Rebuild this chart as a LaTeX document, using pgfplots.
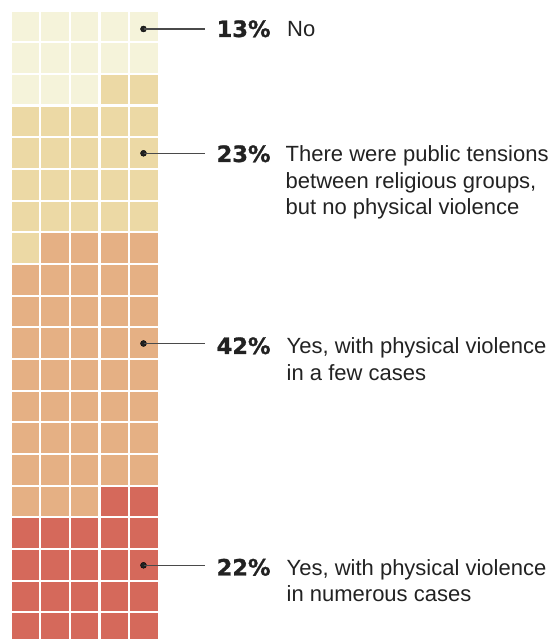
\documentclass[border=0pt]{standalone}
\usepackage{pgfplots}
\pgfplotsset{compat=1.18}
\usepackage{fontspec}
\setmainfont{Liberation Sans}
\newfontfamily\numfont[FakeBold=1.2]{DejaVu Sans Bold}
\definecolor{cNo}{HTML}{F5F3DA}
\definecolor{cTension}{HTML}{ECD9A5}
\definecolor{cFew}{HTML}{E5B084}
\definecolor{cMany}{HTML}{D5695B}
\definecolor{txt}{HTML}{222222}
\definecolor{lead}{HTML}{4A4A4A}
% one cell = one mark covering the full pitch, white outline makes the gaps
\pgfplotsset{cell/.style={only marks, color=#1, mark=square*, mark size=15.83pt,
  mark options={fill=#1, draw=white, line width=2.1pt, xscale=0.935}}}
\begin{document}
\begin{tikzpicture}
\begin{axis}[
  width=555pt, height=639pt, scale only axis,
  xmin=0, xmax=555, ymin=0, ymax=639, y dir=reverse,
  hide axis, clip=true, set layers]
% 13% No
\addplot[cell=cNo] coordinates {
 (25.3,26.4) (55,26.4) (84.6,26.4) (114.3,26.4) (143.9,26.4)
 (25.3,58.1) (55,58.1) (84.6,58.1) (114.3,58.1) (143.9,58.1)
 (25.3,89.7) (55,89.7) (84.6,89.7) };
% 23% tensions, no violence
\addplot[cell=cTension] coordinates {
 (114.3,89.7) (143.9,89.7)
 (25.3,121.4) (55,121.4) (84.6,121.4) (114.3,121.4) (143.9,121.4)
 (25.3,153.1) (55,153.1) (84.6,153.1) (114.3,153.1) (143.9,153.1)
 (25.3,184.8) (55,184.8) (84.6,184.8) (114.3,184.8) (143.9,184.8)
 (25.3,216.4) (55,216.4) (84.6,216.4) (114.3,216.4) (143.9,216.4)
 (25.3,248.1) };
% 42% violence in a few cases
\addplot[cell=cFew] coordinates {
 (55,248.1) (84.6,248.1) (114.3,248.1) (143.9,248.1)
 (25.3,279.8) (55,279.8) (84.6,279.8) (114.3,279.8) (143.9,279.8)
 (25.3,311.4) (55,311.4) (84.6,311.4) (114.3,311.4) (143.9,311.4)
 (25.3,343.1) (55,343.1) (84.6,343.1) (114.3,343.1) (143.9,343.1)
 (25.3,374.8) (55,374.8) (84.6,374.8) (114.3,374.8) (143.9,374.8)
 (25.3,406.4) (55,406.4) (84.6,406.4) (114.3,406.4) (143.9,406.4)
 (25.3,438.1) (55,438.1) (84.6,438.1) (114.3,438.1) (143.9,438.1)
 (25.3,469.8) (55,469.8) (84.6,469.8) (114.3,469.8) (143.9,469.8)
 (25.3,501.5) (55,501.5) (84.6,501.5) };
% 22% violence in numerous cases
\addplot[cell=cMany] coordinates {
 (114.3,501.5) (143.9,501.5)
 (25.3,533.1) (55,533.1) (84.6,533.1) (114.3,533.1) (143.9,533.1)
 (25.3,564.8) (55,564.8) (84.6,564.8) (114.3,564.8) (143.9,564.8)
 (25.3,596.5) (55,596.5) (84.6,596.5) (114.3,596.5) (143.9,596.5)
 (25.3,628.1) (55,628.1) (84.6,628.1) (114.3,628.1) (143.9,628.1) };
% leader lines and dots (above the cells)
\addplot[lead, line width=1.3pt, no marks, unbounded coords=jump, on layer=axis foreground] coordinates {
 (143.5,29) (204.5,29) (nan,nan)
 (143.5,153.3) (204.5,153.3) (nan,nan)
 (143.5,343.5) (204.5,343.5) (nan,nan)
 (143.5,565.3) (204.5,565.3) };
\addplot[only marks, mark=*, mark size=3pt, mark options={fill=txt, draw=none}, on layer=axis foreground] coordinates {
 (143.5,29) (143.5,153.3) (143.5,343.5) (143.5,565.3) };
% labels
\begin{scope}[every node/.style={anchor=base west, inner sep=0pt, text=txt}]
\node[font=\numfont\fontsize{22.5}{26}\selectfont] at (axis cs:216.5,37) {13\%};
\node[font=\fontsize{22}{26}\selectfont] at (axis cs:287,37) {No};
\node[font=\numfont\fontsize{22.5}{26}\selectfont] at (axis cs:216.5,162) {23\%};
\node[font=\fontsize{22}{26}\selectfont] at (axis cs:285.5,162) {There were public tensions};
\node[font=\fontsize{22}{26}\selectfont] at (axis cs:285.5,188.2) {between religious groups,};
\node[font=\fontsize{22}{26}\selectfont] at (axis cs:285.5,214.4) {but no physical violence};
\node[font=\numfont\fontsize{22.5}{26}\selectfont] at (axis cs:216.5,354) {42\%};
\node[font=\fontsize{22}{26}\selectfont] at (axis cs:286.5,354) {Yes, with physical violence};
\node[font=\fontsize{22}{26}\selectfont] at (axis cs:286.5,380.3) {in a few cases};
\node[font=\numfont\fontsize{22.5}{26}\selectfont] at (axis cs:216.5,575.5) {22\%};
\node[font=\fontsize{22}{26}\selectfont] at (axis cs:286.5,575.5) {Yes, with physical violence};
\node[font=\fontsize{22}{26}\selectfont] at (axis cs:286.5,601.8) {in numerous cases};
\end{scope}
\end{axis}
\pgfresetboundingbox
\path (current axis.south west) rectangle (current axis.north east);
\end{tikzpicture}
\end{document}
